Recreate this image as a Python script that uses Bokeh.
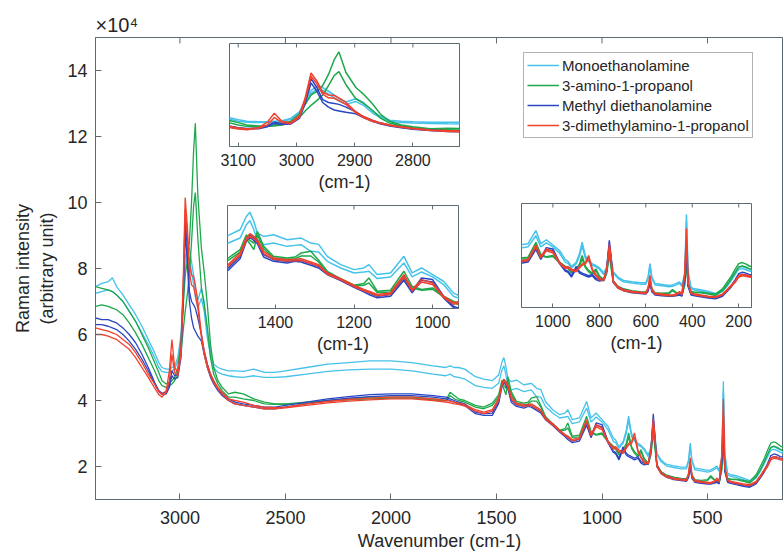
import math
from bokeh.plotting import figure
from bokeh.models import (ColumnDataSource, Range1d, FixedTicker, Legend, LegendItem, Title)
from bokeh.layouts import column
from bokeh.embed import file_html
from bokeh.resources import INLINE

# ---------------- data (intensity in units of 1e4) ----------------
wavenumber = [3400, 3370, 3340, 3320, 3300, 3270, 3240, 3210, 3180, 3150, 3120, 3100, 3085,
              3065, 3050, 3038, 3025, 3010, 2995, 2985, 2975, 2965, 2955, 2945, 2935, 2927, 2915, 2898, 2885, 2870, 2855, 2840, 2820, 2800,
              2770, 2740, 2700, 2650, 2600, 2550, 2500, 2400, 2300, 2200, 2100, 2000, 1900, 1800, 1740, 1720, 1700, 1680, 1650, 1600, 1560, 1520,
              1490, 1474, 1465, 1455, 1446, 1430, 1405, 1370, 1350, 1335, 1310, 1290, 1268, 1234, 1200, 1175, 1162, 1141, 1107, 1073, 1052, 1028, 1000, 972, 947, 935,
              920, 900, 885, 874, 860, 846, 830, 815, 800, 781, 768, 757, 750, 740, 720, 696, 660, 624, 600, 590,
              582, 574, 560, 530, 500, 485, 470, 455, 445, 432, 425, 418, 405, 390, 364, 330, 300, 270, 250, 234,
              215, 200, 185, 170, 155, 140]

mea_1 = [7.45, 7.55, 7.6, 7.72, 7.45, 7.2, 6.9, 6.6, 6.25, 5.85, 5.45, 5.15, 5.0,
         4.95, 4.95, 5.0, 5.05, 5.3, 6.0, 7.2, 8.3, 8.7, 8.6, 8.2, 7.8, 7.4, 7.05, 7.4, 7.0, 6.1, 5.5, 5.1, 5.0, 4.95,
         4.9, 4.9, 4.88, 4.95, 4.85, 4.85, 4.9, 5.0, 5.1, 5.15, 5.2, 5.2, 5.15, 5.05, 5.0, 5.05, 5.0, 5.0, 4.95, 4.72, 4.65, 4.6,
         4.77, 5.17, 5.3, 5.02, 4.67, 4.57, 4.62, 4.47, 4.5, 4.52, 4.37, 4.33, 3.97, 3.72, 3.57, 3.62, 3.72, 3.42, 3.47, 3.97, 3.47, 3.62, 3.42, 3.22, 2.87, 2.8,
         2.6, 2.75, 3.1, 3.53, 3.0, 2.83, 2.7, 2.64, 2.55, 2.35, 2.6, 3.4, 3.0, 2.4, 2.2, 2.07, 2.02, 1.98, 1.98, 2.2,
         2.71, 2.2, 1.95, 1.92, 1.88, 1.9, 1.95, 2.01, 1.9, 2.3, 4.58, 2.4, 1.8, 1.75, 1.72, 1.65, 1.57, 1.7, 1.9, 2.1,
         2.35, 2.58, 2.6, 2.55, 2.5, 2.45]
mea_2 = [7.25, 7.3, 7.35, 7.3, 7.2, 7.0, 6.7, 6.4, 6.05, 5.7, 5.3, 5.0, 4.88,
         4.85, 4.85, 4.9, 4.95, 5.2, 5.8, 6.9, 8.0, 8.4, 8.3, 7.9, 7.5, 7.15, 6.8, 7.1, 6.7, 5.9, 5.35, 5.0, 4.85, 4.8,
         4.75, 4.72, 4.7, 4.75, 4.7, 4.7, 4.72, 4.8, 4.88, 4.93, 4.95, 4.95, 4.9, 4.8, 4.75, 4.8, 4.72, 4.7, 4.65, 4.45, 4.4, 4.37,
         4.52, 4.92, 5.05, 4.77, 4.47, 4.32, 4.37, 4.27, 4.3, 4.32, 4.12, 4.1, 3.82, 3.62, 3.47, 3.5, 3.52, 3.3, 3.35, 3.77, 3.35, 3.5, 3.35, 3.12, 2.77, 2.72,
         2.55, 2.7, 3.0, 3.4, 2.9, 2.78, 2.65, 2.6, 2.5, 2.3, 2.55, 3.3, 2.9, 2.35, 2.15, 2.02, 1.97, 1.93, 1.93, 2.15,
         2.6, 2.15, 1.9, 1.87, 1.83, 1.85, 1.9, 1.96, 1.85, 2.25, 4.3, 2.3, 1.75, 1.7, 1.67, 1.6, 1.52, 1.65, 1.85, 2.05,
         2.3, 2.5, 2.52, 2.48, 2.43, 2.4]
amp_1 = [7.45, 7.4, 7.35, 7.3, 7.2, 7.0, 6.7, 6.4, 6.0, 5.6, 5.15, 4.85, 4.6,
         4.5, 4.55, 4.6, 4.7, 5.0, 5.8, 6.8, 7.8, 8.2, 8.8, 10.0, 11.6, 12.4, 10.2, 8.6, 7.9, 6.9, 5.7, 5.0, 4.6, 4.4,
         4.2, 4.25, 4.2, 4.05, 3.95, 3.9, 3.9, 3.95, 4.0, 4.05, 4.1, 4.1, 4.1, 4.05, 4.0, 4.25, 4.15, 4.05, 4.0, 3.85, 3.8, 3.92,
         4.17, 4.62, 4.45, 4.37, 4.72, 4.27, 3.97, 3.92, 3.95, 4.07, 4.12, 3.85, 3.52, 3.3, 3.1, 3.15, 3.32, 2.92, 2.95, 3.52, 3.07, 2.97, 3.02, 2.77, 2.62, 2.55,
         2.4, 2.5, 2.7, 3.02, 2.6, 2.45, 2.35, 2.51, 2.25, 2.1, 2.4, 3.15, 2.7, 2.05, 1.85, 1.75, 1.68, 1.64, 1.63, 1.75,
         2.05, 1.75, 1.6, 1.58, 1.6, 1.72, 1.62, 1.55, 1.5, 2.0, 3.0, 1.9, 1.65, 1.62, 1.62, 1.58, 1.55, 1.75, 2.0, 2.2,
         2.5, 2.71, 2.75, 2.7, 2.62, 2.58]
amp_2 = [6.85, 6.9, 6.85, 6.8, 6.75, 6.6, 6.35, 6.05, 5.7, 5.3, 4.9, 4.6, 4.45,
         4.4, 4.45, 4.5, 4.6, 4.85, 5.4, 6.1, 6.7, 7.2, 7.8, 8.8, 9.9, 10.3, 8.9, 7.4, 6.9, 6.2, 5.3, 4.8, 4.5, 4.3,
         4.1, 4.1, 4.05, 4.0, 3.9, 3.88, 3.88, 3.92, 3.98, 4.02, 4.05, 4.07, 4.07, 4.02, 3.98, 4.15, 4.05, 4.0, 3.95, 3.8, 3.75, 3.85,
         4.1, 4.5, 4.35, 4.17, 4.62, 4.2, 3.92, 3.88, 3.9, 3.98, 3.98, 3.8, 3.48, 3.28, 3.08, 3.1, 3.17, 2.88, 2.9, 3.38, 3.02, 2.95, 2.98, 2.75, 2.6, 2.52,
         2.35, 2.45, 2.62, 2.9, 2.55, 2.4, 2.3, 2.45, 2.2, 2.05, 2.35, 3.05, 2.6, 2.0, 1.82, 1.72, 1.66, 1.62, 1.6, 1.72,
         2.0, 1.72, 1.58, 1.55, 1.57, 1.68, 1.6, 1.53, 1.48, 1.9, 2.8, 1.85, 1.62, 1.6, 1.6, 1.55, 1.5, 1.68, 1.9, 2.1,
         2.38, 2.58, 2.62, 2.58, 2.52, 2.48]
mdea_1 = [6.5, 6.45, 6.45, 6.4, 6.35, 6.2, 6.0, 5.75, 5.4, 5.0, 4.55, 4.3, 4.22,
          4.25, 4.5, 4.9, 4.75, 4.8, 5.5, 7.2, 9.55, 8.6, 7.3, 7.0, 6.9, 6.8, 6.5, 6.0, 5.5, 5.1, 4.8, 4.6, 4.35, 4.2,
          4.05, 3.95, 3.9, 3.85, 3.8, 3.8, 3.85, 3.95, 4.05, 4.12, 4.18, 4.2, 4.2, 4.15, 4.1, 4.05, 4.0, 3.95, 3.9, 3.65, 3.6, 3.62,
          3.97, 4.52, 4.62, 4.52, 4.42, 4.02, 3.87, 3.82, 3.87, 3.85, 3.75, 3.67, 3.47, 3.28, 3.08, 2.95, 2.87, 2.77, 2.82, 3.32, 2.92, 3.32, 3.27, 2.77, 2.47, 2.42,
          2.25, 2.6, 2.4, 2.35, 2.3, 2.25, 2.3, 2.15, 2.1, 2.12, 2.5, 3.6, 3.0, 2.05, 1.82, 1.72, 1.64, 1.6, 1.58, 1.7,
          2.07, 1.68, 1.55, 1.52, 1.5, 1.5, 1.52, 1.55, 1.5, 2.2, 3.5, 1.9, 1.55, 1.52, 1.48, 1.42, 1.4, 1.5, 1.7, 1.85,
          2.1, 2.33, 2.38, 2.35, 2.3, 2.28]
mdea_2 = [6.3, 6.3, 6.25, 6.2, 6.15, 6.0, 5.8, 5.55, 5.25, 4.9, 4.5, 4.27, 4.18,
          4.2, 4.4, 4.75, 4.65, 4.7, 5.3, 6.9, 9.1, 8.2, 7.0, 6.5, 6.2, 6.1, 5.95, 5.8, 5.4, 5.0, 4.7, 4.5, 4.3, 4.15,
          4.0, 3.9, 3.85, 3.8, 3.75, 3.75, 3.8, 3.9, 4.0, 4.07, 4.12, 4.15, 4.15, 4.1, 4.05, 4.0, 3.95, 3.9, 3.85, 3.6, 3.55, 3.55,
          3.9, 4.42, 4.55, 4.45, 4.35, 3.95, 3.82, 3.77, 3.82, 3.8, 3.7, 3.62, 3.42, 3.24, 3.04, 2.9, 2.82, 2.72, 2.77, 3.25, 2.87, 3.25, 3.2, 2.72, 2.43, 2.38,
          2.2, 2.52, 2.35, 2.3, 2.25, 2.2, 2.25, 2.1, 2.05, 2.08, 2.45, 3.45, 2.9, 2.0, 1.78, 1.68, 1.6, 1.57, 1.55, 1.66,
          2.0, 1.64, 1.52, 1.49, 1.47, 1.47, 1.49, 1.52, 1.47, 2.1, 3.3, 1.85, 1.52, 1.49, 1.45, 1.4, 1.37, 1.47, 1.65, 1.8,
          2.05, 2.25, 2.3, 2.28, 2.24, 2.22]
dmap_1 = [6.2, 6.15, 6.1, 6.05, 6.0, 5.85, 5.7, 5.45, 5.15, 4.8, 4.5, 4.28, 4.18,
          4.3, 4.9, 5.85, 5.0, 4.85, 5.6, 7.5, 10.15, 9.3, 8.1, 7.8, 7.75, 7.5, 7.0, 6.0, 5.5, 5.1, 4.8, 4.6, 4.4, 4.25,
          4.05, 4.0, 3.95, 3.85, 3.8, 3.78, 3.8, 3.9, 3.97, 4.03, 4.07, 4.1, 4.1, 4.05, 4.0, 3.98, 3.95, 3.92, 3.88, 3.72, 3.65, 3.72,
          4.07, 4.52, 4.65, 4.57, 4.47, 4.12, 3.92, 3.87, 3.88, 3.9, 3.8, 3.72, 3.47, 3.3, 3.1, 2.97, 2.92, 2.82, 2.87, 3.42, 2.97, 3.27, 3.17, 2.77, 2.57, 2.6,
          2.5, 2.45, 2.6, 2.7, 2.75, 3.02, 2.5, 2.3, 2.15, 2.12, 2.5, 3.45, 2.95, 2.05, 1.82, 1.72, 1.65, 1.62, 1.6, 1.8,
          2.26, 1.75, 1.58, 1.55, 1.52, 1.52, 1.55, 1.65, 1.55, 2.4, 4.05, 2.0, 1.6, 1.55, 1.52, 1.47, 1.45, 1.55, 1.72, 1.88,
          2.05, 2.26, 2.3, 2.28, 2.25, 2.22]
dmap_2 = [6.0, 6.0, 5.95, 5.9, 5.85, 5.7, 5.55, 5.3, 5.0, 4.7, 4.38, 4.18, 4.1,
          4.25, 4.6, 5.4, 4.85, 4.75, 5.4, 7.2, 9.8, 9.0, 7.9, 7.5, 7.45, 7.2, 6.8, 5.9, 5.4, 5.0, 4.75, 4.55, 4.35, 4.2,
          4.0, 3.9, 3.85, 3.8, 3.75, 3.75, 3.78, 3.85, 3.93, 3.98, 4.02, 4.05, 4.05, 4.0, 3.95, 3.93, 3.9, 3.88, 3.83, 3.68, 3.6, 3.68,
          4.0, 4.45, 4.58, 4.5, 4.4, 4.05, 3.88, 3.83, 3.84, 3.85, 3.75, 3.68, 3.43, 3.26, 3.06, 2.93, 2.88, 2.78, 2.83, 3.35, 2.93, 3.2, 3.12, 2.73, 2.53, 2.55,
          2.45, 2.4, 2.55, 2.65, 2.7, 2.9, 2.45, 2.25, 2.1, 2.08, 2.45, 3.3, 2.85, 2.0, 1.78, 1.68, 1.62, 1.59, 1.57, 1.75,
          2.15, 1.7, 1.55, 1.52, 1.49, 1.49, 1.52, 1.6, 1.52, 2.3, 3.6, 1.95, 1.57, 1.52, 1.49, 1.44, 1.42, 1.52, 1.68, 1.83,
          2.0, 2.2, 2.25, 2.23, 2.2, 2.18]

compounds = ["Monoethanolamine", "3-amino-1-propanol", "Methyl diethanolamine", "3-dimethylamino-1-propanol"]
main_x_ticks = [500, 1000, 1500, 2000, 2500, 3000]
main_y_ticks = [2, 4, 6, 8, 10, 12, 14]
inset1_ticks = [2800, 2900, 3000, 3100]
inset2_ticks = [1000, 1200, 1400]
inset3_ticks = [200, 400, 600, 800, 1000]
y_scale_note = "×10⁴"

# ---------------- styling ----------------
FONT = "Liberation Sans"
AXC = "#5e6a72"
TXT = "#262626"
COLORS = ["#45c2ea", "#1da84b", "#2a46c2", "#f0412d"]

src = ColumnDataSource(dict(x=wavenumber, mea_1=mea_1, mea_2=mea_2, amp_1=amp_1, amp_2=amp_2,
                            mdea_1=mdea_1, mdea_2=mdea_2, dmap_1=dmap_1, dmap_2=dmap_2))
curves = [("mea_1", 0), ("mea_2", 0), ("amp_1", 1), ("amp_2", 1),
          ("mdea_1", 2), ("mdea_2", 2), ("dmap_1", 3), ("dmap_2", 3)]


def style_axis(ax, size, tick_in=6):
    ax.axis_line_color = AXC
    ax.major_tick_line_color = AXC
    ax.minor_tick_line_color = None
    ax.major_tick_in = tick_in
    ax.major_tick_out = 0
    ax.major_label_text_font = FONT
    ax.major_label_text_font_size = size
    ax.major_label_text_color = TXT
    ax.axis_label_text_font = FONT
    ax.axis_label_text_font_style = "normal"
    ax.axis_label_text_color = TXT


def draw_curves(fig, lw):
    first = {}
    for name, ci in curves:
        r = fig.line("x", name, source=src, line_color=COLORS[ci], line_width=lw)
        first.setdefault(ci, r)
    return first


def top_ticks(fig, ticks, size):
    # inward tick marks on the top frame edge (tick values from the tick list)
    fig.scatter(x=ticks, y=[fig.y_range.end] * len(ticks), marker="dash", angle=math.pi / 2,
                size=size, line_color=AXC, line_width=1)


# ---------------- main figure ----------------
p = figure(width=783, height=560, x_range=Range1d(3400, 140), y_range=Range1d(1, 15),
           output_backend="svg", toolbar_location=None, frame_align=False,
           min_border_left=95, min_border_right=0, min_border_top=37, min_border_bottom=61)
p.outline_line_color = AXC
p.grid.grid_line_color = None
p.background_fill_color = "white"
p.border_fill_color = "white"

p.xaxis.ticker = FixedTicker(ticks=main_x_ticks)
p.yaxis.ticker = FixedTicker(ticks=main_y_ticks)
style_axis(p.xaxis[0], "18px")
style_axis(p.yaxis[0], "18px")
p.xaxis.axis_label = "Wavenumber (cm-1)"
p.yaxis.axis_label = "Raman intensity\n(arbitrary unit)"
p.xaxis.axis_label_text_font_size = "18px"
p.yaxis.axis_label_text_font_size = "18px"
p.xaxis.major_label_standoff = 11
p.xaxis.axis_label_standoff = 4
p.yaxis.major_label_standoff = 8
p.yaxis.axis_label_standoff = 7

p.add_layout(Title(text=y_scale_note, align="left", offset=0, standoff=4,
                   text_font=FONT, text_font_size="20px", text_font_style="normal",
                   text_color=TXT), "above")

top_ticks(p, main_x_ticks, 12)
leg_r = draw_curves(p, 1.3)

legend = Legend(items=[LegendItem(label=compounds[i], renderers=[leg_r[i]]) for i in range(4)],
                location=(428, 361), label_text_font=FONT, label_text_font_size="15px",
                label_text_color=TXT, label_standoff=3, glyph_width=32, glyph_height=18,
                label_height=18, spacing=2, padding=3, margin=0,
                border_line_color=AXC, border_line_width=1, background_fill_color="white",
                background_fill_alpha=1)
p.add_layout(legend)


# ---------------- insets ----------------
def make_inset(xr, yr, ticks, fw, fh, left, top, bl=24, br=24, bt=4, bb=56):
    q = figure(width=fw + bl + br, height=fh + bt + bb, x_range=Range1d(*xr), y_range=Range1d(*yr),
               output_backend="svg", toolbar_location=None, y_axis_location=None, frame_align=False,
               min_border_left=bl, min_border_right=br, min_border_top=bt, min_border_bottom=bb)
    q.styles = {"position": "absolute", "left": f"{left - bl}px", "top": f"{top - bt}px"}
    q.border_fill_alpha = 0
    q.background_fill_color = "white"
    q.outline_line_color = AXC
    q.outline_line_alpha = 1
    q.grid.grid_line_color = None
    q.xaxis.ticker = FixedTicker(ticks=ticks)
    style_axis(q.xaxis[0], "16px", tick_in=4)
    q.xaxis.axis_label = "(cm-1)"
    q.xaxis.axis_label_text_font_size = "18px"
    q.xaxis.major_label_standoff = 7
    q.xaxis.axis_label_standoff = 3
    top_ticks(q, ticks, 8)
    draw_curves(q, 1.5)
    return q


inset1 = make_inset((3115, 2720), (2.3, 13.3), inset1_ticks, 230, 103, 229, 43)
inset2 = make_inset((1522, 934), (2.4, 5.5), inset2_ticks, 231, 103, 227, 205)
inset3 = make_inset((1135, 145), (1.04, 5.0), inset3_ticks, 230, 104, 521, 203, br=14)

layout = column(p, inset1, inset2, inset3)
layout.styles = {"position": "relative"}

open("out.html", "w").write(file_html(layout, INLINE))
